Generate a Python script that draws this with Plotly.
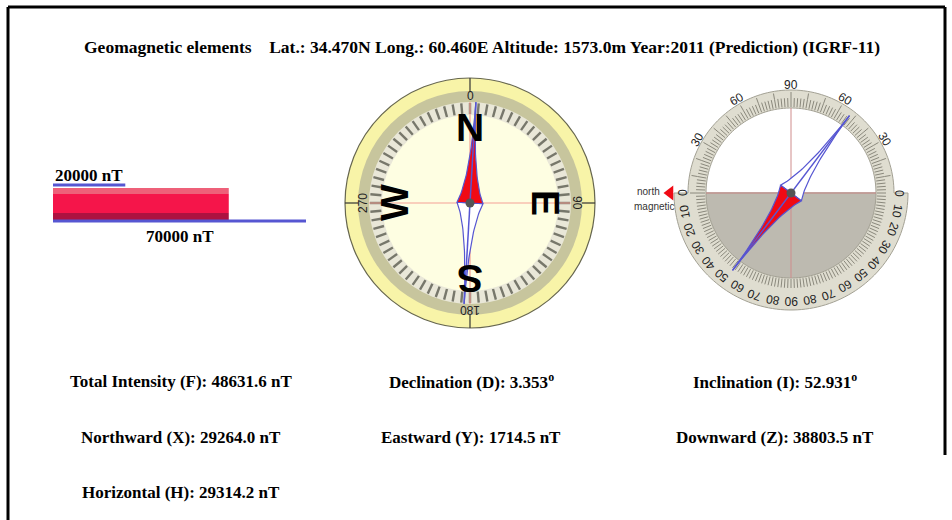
import numpy as np
import plotly.graph_objects as go

W, H = 952, 520

# ---- values
title_prefix = "Geomagnetic elements"
latitude = "34.470N"
longitude = "60.460E"
altitude_m = 1573.0
year = 2011
model = "IGRF-11"

element_names = ["Total Intensity (F)", "Declination (D)", "Inclination (I)",
                 "Northward (X)", "Eastward (Y)", "Downward (Z)",
                 "Horizontal (H)"]
element_values = [48631.6, 3.353, 52.931, 29264.0, 1714.5, 38803.5, 29314.2]
element_units = ["nT", "deg", "deg", "nT", "nT", "nT", "nT"]

scale_marks_nT = [20000, 70000]
compass_degrees = [0, 90, 180, 270]
compass_letters = ["N", "E", "S", "W"]
dip_upper_labels = [0, 30, 60, 90]
dip_lower_labels = [0, 10, 20, 30, 40, 50, 60, 70, 80, 90]

total_intensity = element_values[0]
declination = element_values[1]
inclination = element_values[2]

# ---- layout constants (pixels)
COMPASS_C = (470, 203)
DIP_C = (791, 193)
BLUE = "#5656d2"
RED = "#f00a14"
SERIF = "Liberation Serif, Times New Roman, serif"
SANS = "Liberation Sans, Arial, sans-serif"

fig = go.Figure()
shapes = []
annotations = []


def polar(c, r, phi):
    # phi in degrees, clockwise from east (screen y points down)
    a = np.radians(phi)
    return c[0] + r * np.cos(a), c[1] + r * np.sin(a)


def arc_pts(c, r, phi0, phi1, n=90):
    return [polar(c, r, p) for p in np.linspace(phi0, phi1, n)]


def path_from(pts):
    return "M " + " L ".join(f"{x:.2f},{y:.2f}" for x, y in pts) + " Z"


def circle(c, r, fill, line="rgba(0,0,0,0)", lw=0):
    shapes.append(dict(type="circle", xref="x", yref="y", layer="below",
                       x0=c[0] - r, x1=c[0] + r, y0=c[1] - r, y1=c[1] + r,
                       fillcolor=fill, line=dict(color=line, width=lw)))


def segments(c, phis, r0, r1):
    xs, ys = [], []
    for p in phis:
        x0, y0 = polar(c, r0, p)
        x1, y1 = polar(c, r1, p)
        xs += [x0, x1, None]
        ys += [y0, y1, None]
    return xs, ys


def add_lines(xs, ys, color, width):
    fig.add_trace(go.Scatter(x=xs, y=ys, mode="lines", hoverinfo="skip",
                             line=dict(color=color, width=width)))


def needle_half(c, phi, length, half_w, n=40):
    t = np.linspace(0, 1, n)
    p0 = np.array([0.0, half_w])
    p1 = np.array([0.25 * length, 0.1 * half_w])
    p2 = np.array([length, 0.0])
    up = ((1 - t) ** 2)[:, None] * p0 + (2 * (1 - t) * t)[:, None] * p1 + (t ** 2)[:, None] * p2
    lo = up[::-1] * np.array([1, -1])
    pts = np.vstack([up, lo, up[:1]])
    a = np.radians(phi)
    x = c[0] + pts[:, 0] * np.cos(a) - pts[:, 1] * np.sin(a)
    y = c[1] + pts[:, 0] * np.sin(a) + pts[:, 1] * np.cos(a)
    return x, y


def add_needle(c, phi_north, length, half_w):
    for phi, fill in [(phi_north + 180, "white"), (phi_north, RED)]:
        x, y = needle_half(c, phi, length, half_w)
        fig.add_trace(go.Scatter(x=x, y=y, mode="lines", fill="toself",
                                 fillcolor=fill, hoverinfo="skip",
                                 line=dict(color=BLUE, width=1.2)))
    xa, ya = polar(c, length, phi_north)
    xb, yb = polar(c, length, phi_north + 180)
    add_lines([xa, xb], [ya, yb], BLUE, 1.5)
    fig.add_trace(go.Scatter(x=[c[0]], y=[c[1]], mode="markers", hoverinfo="skip",
                             marker=dict(size=9, color="#555555")))


def text_angle(phi):
    t = (phi + 90) % 360
    return t - 360 if t > 180 else t


# ---- intensity bar (x2 axis in nT)
bands = [(191, 6, "#ee6079"), (203.5, 19, "#f5154a"), (216.5, 7, "#ad1240")]
for yc, w, col in bands:
    fig.add_trace(go.Bar(x=[total_intensity], y=[yc], base=0, width=w,
                         orientation="h", xaxis="x2", yaxis="y",
                         marker=dict(color=col, line=dict(width=0)),
                         hoverinfo="skip"))
for mark, yl in zip(scale_marks_nT, [185, 221]):
    fig.add_trace(go.Scatter(x=[0, mark], y=[yl, yl], mode="lines",
                             xaxis="x2", yaxis="y", hoverinfo="skip",
                             line=dict(color=BLUE, width=3)))
annotations.append(dict(xref="x2", yref="y", x=0, y=175, xanchor="left",
                        text=f"<b>{scale_marks_nT[0]} nT</b>", showarrow=False,
                        font=dict(family=SERIF, size=17, color="black")))
annotations.append(dict(xref="x2", yref="y", x=scale_marks_nT[1] / 2, y=236,
                        xanchor="center", text=f"<b>{scale_marks_nT[1]} nT</b>",
                        showarrow=False,
                        font=dict(family=SERIF, size=17, color="black")))

# ---- declination compass
cc = COMPASS_C
circle(cc, 125, "#f8f4a8", "#66664f", 1.2)
circle(cc, 112, "#c7c59d")
circle(cc, 101, "#e9e7d8")
circle(cc, 88, "#fefee2")
xs, ys = segments(cc, np.arange(0, 360, 5), 89, 100)
add_lines(xs, ys, "#77776b", 2.4)
xs, ys = segments(cc, [0, 90, 180, 270], 112, 125)
add_lines(xs, ys, "#333333", 1.2)
for s in (1, -1):
    xs, ys = segments(cc, [0, 90], 0, s * 101)
    add_lines(xs, ys, "#f4a095", 1.2)
for deg, letter in zip(compass_degrees, compass_letters):
    phi = deg - 90
    x, y = polar(cc, 76, phi)
    annotations.append(dict(x=x, y=y, text=f"<b>{letter}</b>", showarrow=False,
                            textangle=text_angle(phi),
                            font=dict(family=SANS, size=39, color="black")))
    x, y = polar(cc, 107, phi)
    annotations.append(dict(x=x, y=y, text=str(deg), showarrow=False,
                            textangle=text_angle(phi),
                            font=dict(family=SANS, size=12, color="#222222")))
add_needle(cc, declination - 90, 101, 13)

# ---- inclination dial
dc = DIP_C
outline = arc_pts(dc, 103, 180, 360) + arc_pts(dc, 117, 0, 180)
shapes.append(dict(type="path", xref="x", yref="y", layer="below",
                   path=path_from(outline), fillcolor="#dfddd0",
                   line=dict(color="#a3a194", width=1)))
shapes.append(dict(type="path", xref="x", yref="y", layer="below",
                   path=path_from(arc_pts(dc, 85, 180, 360)), fillcolor="white",
                   line=dict(color="#a3a194", width=1)))
shapes.append(dict(type="path", xref="x", yref="y", layer="below",
                   path=path_from(arc_pts(dc, 85, 0, 180)), fillcolor="#bdbab0",
                   line=dict(color="#a3a194", width=1)))
xs, ys = segments(dc, np.arange(0, 360, 2), 86, 95)
add_lines(xs, ys, "#8a887c", 1)
xs, ys = segments(dc, np.arange(180, 360, 10), 95, 101)
add_lines(xs, ys, "#8a887c", 1)
for s in (1, -1):
    xs, ys = segments(dc, [0, 90], 0, s * 85)
    add_lines(xs, ys, "#cf8c8c", 1)
dip_label_pos = []
for v in dip_upper_labels:
    dip_label_pos += [(v, 180 + v), (v, 360 - v)]
for v in dip_lower_labels[1:]:
    dip_label_pos += [(v, 180 - v), (v, v)]
seen = set()
for v, phi in dip_label_pos:
    key = round(phi % 360, 3)
    if key in seen:
        continue
    seen.add(key)
    x, y = polar(dc, 108, phi)
    annotations.append(dict(x=x, y=y, text=str(v), showarrow=False,
                            textangle=text_angle(phi),
                            font=dict(family=SANS, size=12, color="#222222")))
add_needle(dc, 180 - inclination, 97, 13)

fig.add_trace(go.Scatter(x=[670], y=[193], mode="markers", hoverinfo="skip",
                         marker=dict(symbol="triangle-left", size=13, color=RED)))
annotations.append(dict(x=662, y=191, text="north", xanchor="right",
                        showarrow=False,
                        font=dict(family=SANS, size=10, color="#333333")))
annotations.append(dict(x=677, y=206, text="magnetic", xanchor="right",
                        showarrow=False,
                        font=dict(family=SANS, size=10, color="#333333")))

# ---- title and element readouts
title = (f"<b>{title_prefix}    Lat.: {latitude} Long.: {longitude} "
         f"Altitude: {altitude_m:.1f}m Year:{year} (Prediction) ({model})</b>")
annotations.append(dict(x=482, y=47, text=title, showarrow=False,
                        font=dict(family=SERIF, size=17.5, color="black")))

col_x = [181, 471, 775]
row_y = [381, 437, 492]
for i, (name, val, unit) in enumerate(zip(element_names, element_values,
                                          element_units)):
    if unit == "deg":
        txt = f"<b>{name}: {val:.3f}<sup>o</sup></b>"
    else:
        txt = f"<b>{name}: {val:.1f} {unit}</b>"
    annotations.append(dict(x=col_x[i % 3], y=row_y[i // 3], text=txt,
                            showarrow=False,
                            font=dict(family=SERIF, size=17, color="black")))

# ---- frame (right edge stops short of the bottom in the reference)
for x0, y0, x1, y1 in [(8, 7, 8, 520), (8, 7, 945, 7), (945, 7, 945, 455)]:
    shapes.append(dict(type="line", xref="x", yref="y", x0=x0, y0=y0, x1=x1,
                       y1=y1, line=dict(color="black", width=3)))

fig.update_layout(
    width=W, height=H,
    margin=dict(l=0, r=0, t=0, b=0),
    paper_bgcolor="white", plot_bgcolor="white",
    showlegend=False, barmode="overlay",
    xaxis=dict(range=[0, W], visible=False, fixedrange=True),
    yaxis=dict(range=[H, 0], visible=False, fixedrange=True),
    xaxis2=dict(domain=[53 / W, 306 / W], range=[0, max(scale_marks_nT)],
                anchor="y", visible=False, fixedrange=True),
    shapes=shapes, annotations=annotations,
)

fig.write_html("out.html", config={"displayModeBar": False},
               post_script="document.body.style.margin='0';"
                           "document.body.style.overflow='hidden';")
